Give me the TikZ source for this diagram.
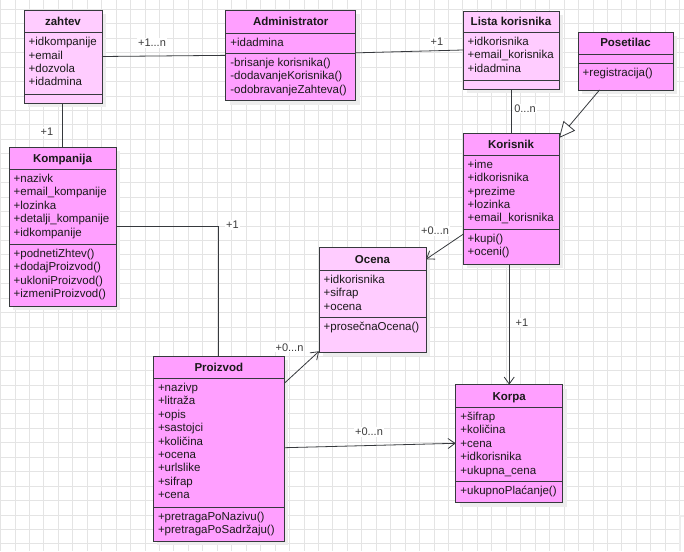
\documentclass[tikz,border=0pt]{standalone}
\usepackage{fontspec}
\setmainfont{Liberation Sans}
\usetikzlibrary{arrows.meta,calc}
\definecolor{pinkdark}{HTML}{FF9FFF}
\definecolor{pinklight}{HTML}{FFCCFF}
\definecolor{edgegray}{HTML}{36393D}
\definecolor{gridgray}{HTML}{E4E4E4}
\definecolor{textc}{HTML}{1A1A1A}
\definecolor{shadowc}{HTML}{EDEDED}
\tikzset{
  cls/.style={draw=edgegray, line width=0.9pt, inner sep=0pt, outer sep=0pt, anchor=north west},
  ctitle/.style={anchor=base, inner sep=0pt, font=\fontsize{11.5}{13.4}\selectfont\bfseries, text=textc},
  clist/.style={anchor=base west, inner sep=0pt, font=\fontsize{11.5}{13.4}\selectfont, text=textc},
  sepl/.style={draw=edgegray, line width=0.9pt},
  gridl/.style={draw=gridgray, line width=0.8pt},
  conn/.style={draw=edgegray, line width=0.8pt},
  arr/.style={conn, -{Straight Barb[length=7pt,width=10pt]}},
  gen/.style={conn, -{Triangle[open,length=16pt,width=15pt,fill=white]}},
  lab/.style={fill=white, inner sep=1pt, font=\fontsize{11}{13}\selectfont, text=textc!85},
}
% name, x, y, w, h, fill, title, sep1, sep2
\newcommand{\umlclass}[9]{%
  \fill[shadowc] (#2+4,#3+4) rectangle ++(#4,#5);
  \node[cls, fill=#6, minimum width=#4pt, minimum height=#5pt] (#1) at (#2,#3) {};
  \node[ctitle] (#1-title) at (#2+#4/2, #8/2+#3/2+4) {#7};
  \draw[sepl] (#2,#8) -- ++(#4,0);
  \draw[sepl] (#2,#9) -- ++(#4,0);
}
% name, x, sep, lines
\newcommand{\umllist}[4]{%
  \node[clist] (#1) at (#2+4.5, #3+13.2) {\begin{tabular}[t]{@{}l@{}}#4\end{tabular}};
}
\begin{document}
\begin{tikzpicture}[x=1pt, y=-1pt]
\useasboundingbox (0,0) rectangle (684,551);
\fill[white] (0,0) rectangle (684,551);
\foreach \i in {0,...,47} \draw[gridl] (0.45+\i*14.45,0) -- ++(0,551);
\foreach \j in {0,...,37} \draw[gridl] (0,9.2+\j*14.45) -- ++(684,0);
\fill[shadowc] (679,515) rectangle (684,551);
\fill[white] (681,517) rectangle (684,551);

\umlclass{zahtev}{24}{10}{78}{93}{pinklight}{zahtev}{32.5}{94}
\umllist{zahtev-a}{24}{32.5}{+idkompanije\\+email\\+dozvola\\+idadmina}

\umlclass{admin}{225.7}{10}{130}{90.7}{pinkdark}{Administrator}{33}{53}
\umllist{admin-a}{225.7}{33}{+idadmina}
\umllist{admin-m}{225.7}{53}{-brisanje korisnika()\\-dodavanjeKorisnika()\\-odobravanjeZahteva()}

\umlclass{lista}{463}{11}{96}{78}{pinklight}{Lista korisnika}{32.3}{80}
\umllist{lista-a}{463}{32.3}{+idkorisnika\\+email\_korisnika\\+idadmina}

\umlclass{posetilac}{578}{32}{95}{58}{pinkdark}{Posetilac}{54}{63}
\umllist{posetilac-m}{578}{63}{+registracija()}

\umlclass{kompanija}{9}{147}{107}{159}{pinkdark}{Kompanija}{169.3}{244.3}
\umllist{kompanija-a}{9}{169.3}{+nazivk\\+email\_kompanije\\+lozinka\\+detalji\_kompanije\\+idkompanije}
\umllist{kompanija-m}{9}{244.3}{+podnetiZhtev()\\+dodajProizvod()\\+ukloniProizvod()\\+izmeniProizvod()}

\umlclass{korisnik}{463}{133}{96}{131}{pinkdark}{Korisnik}{155}{229}
\umllist{korisnik-a}{463}{155}{+ime\\+idkorisnika\\+prezime\\+lozinka\\+email\_korisnika}
\umllist{korisnik-m}{463}{229}{+kupi()\\+oceni()}

\umlclass{ocena}{319}{247.7}{107}{104.6}{pinklight}{Ocena}{270.3}{317.7}
\umllist{ocena-a}{319}{270.3}{+idkorisnika\\+sifrap\\+ocena}
\umllist{ocena-m}{319}{317.7}{+prosečnaOcena()}

\umlclass{proizvod}{153.3}{356}{131}{185}{pinkdark}{Proizvod}{378.3}{507.3}
\umllist{proizvod-a}{153.3}{378.3}{+nazivp\\+litraža\\+opis\\+sastojci\\+količina\\+ocena\\+urlslike\\+sifrap\\+cena}
\umllist{proizvod-m}{153.3}{507.3}{+pretragaPoNazivu()\\+pretragaPoSadržaju()}

\umlclass{korpa}{455.7}{384.7}{107}{118}{pinkdark}{Korpa}{407.3}{481.7}
\umllist{korpa-a}{455.7}{407.3}{+šifrap\\+količina\\+cena\\+idkorisnika\\+ukupna\_cena}
\umllist{korpa-m}{455.7}{481.7}{+ukupnoPlaćanje()}

% connectors
\draw[conn] (zahtev.east) -- (admin.west);
\draw[conn] ($(admin.east)+(0,-2.5)$) -- (lista.west);
\draw[conn] (lista.south) -- (korisnik.north);
\draw[gen] ($(posetilac.south)+(-26,0)$) -- ($(korisnik.north east)+(0,5)$);
\draw[conn] (kompanija.north |- zahtev.south) -- (kompanija.north);
\draw[conn] (kompanija.east) -| (proizvod.north);
\draw[arr] ($(korisnik.south west)+(0,-29.7)$) -- ($(ocena.north east)+(0,11.6)$);
\draw[arr] (korpa.north |- korisnik.south) -- (korpa.north);
\draw[arr] ($(proizvod.north east)+(0,27.3)$) -- ($(ocena.south west)+(0,-1)$);
\draw[arr] ($(proizvod.north east)+(0,91.7)$) -- ($(korpa.north west)+(0,58.6)$);

% labels
\node[lab] (l1) at (152,43) {+1...n};
\node[lab] (l2) at (437,41.3) {+1};
\node[lab] (l3) at (525,108.5) {0...n};
\node[lab] (l4) at (47,131.7) {+1};
\node[lab] (l5) at (232.5,225) {+1};
\node[lab] (l6) at (435,230.7) {+0...n};
\node[lab] (l7) at (522,322.7) {+1};
\node[lab] (l8) at (289.5,347.3) {+0...n};
\node[lab] (l9) at (369,431.7) {+0...n};
\end{tikzpicture}
\end{document}
